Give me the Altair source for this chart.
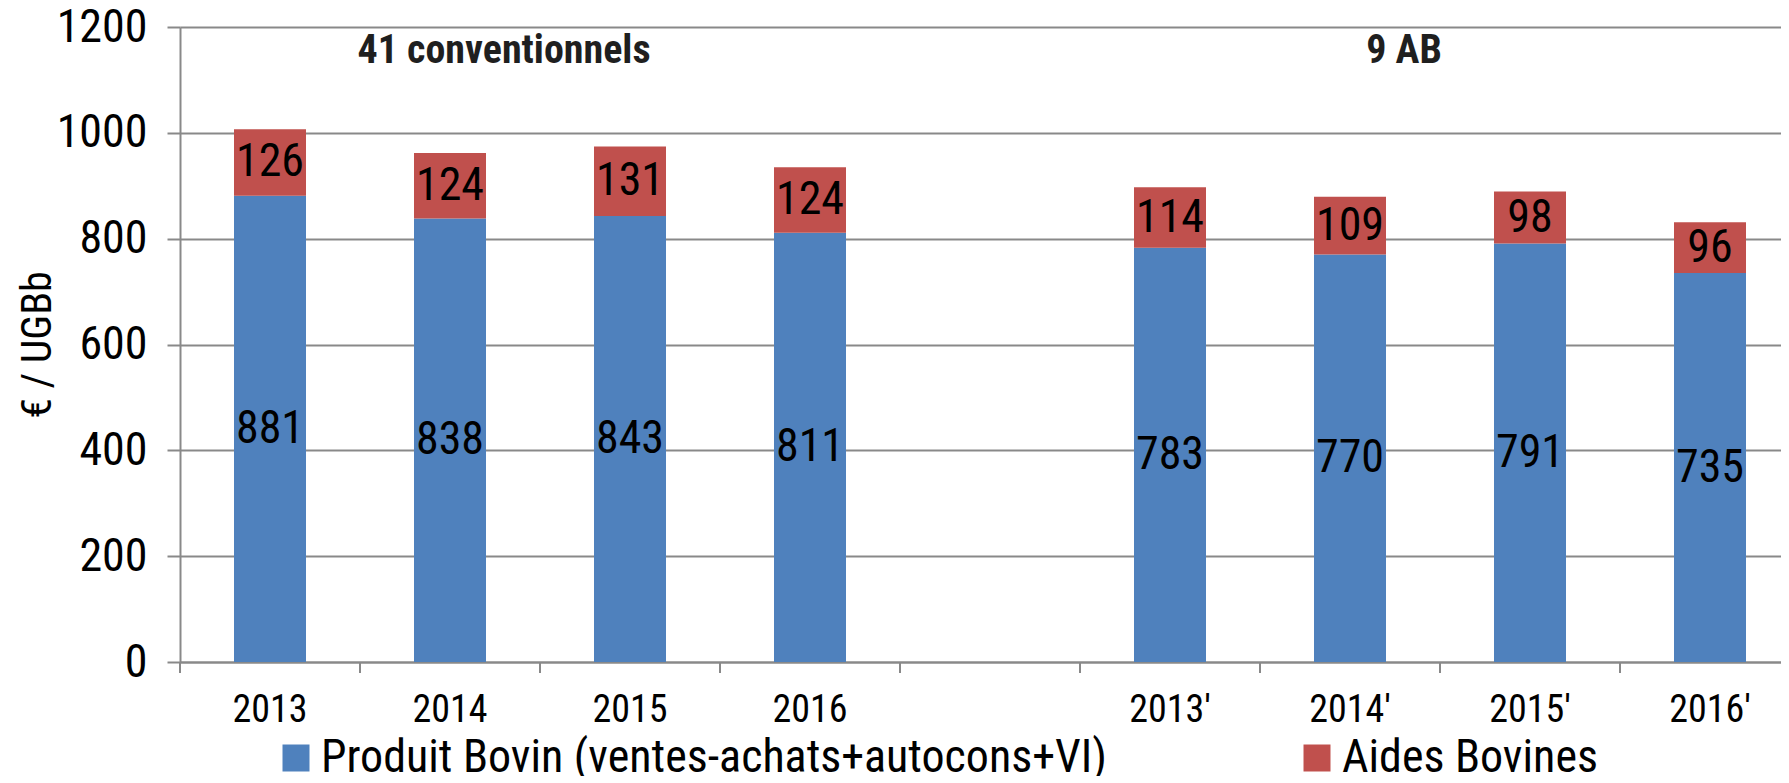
import altair as alt
import pandas as pd

categories = ["2013", "2014", "2015", "2016", " ", "2013'", "2014'", "2015'", "2016'"]
bar_cats = ["2013", "2014", "2015", "2016", "2013'", "2014'", "2015'", "2016'"]
produit = [881, 838, 843, 811, 783, 770, 791, 735]
aides = [126, 124, 131, 124, 114, 109, 98, 96]
series = ["Produit Bovin (ventes-achats+autocons+VI)", "Aides Bovines"]
colors = ["#4F81BD", "#C0504D"]
group_labels = ["41 conventionnels", "9 AB"]
group_cats = ["2014", "2014'"]
y_ticks = [0, 200, 400, 600, 800, 1000, 1200]

FONT = "Liberation Sans Narrow, Arial Narrow, Roboto Condensed, sans-serif"

rows = []
for c, p, a in zip(bar_cats, produit, aides):
    rows.append({"cat": c, "serie": series[0], "val": p, "ord": 0, "mid": p / 2})
    rows.append({"cat": c, "serie": series[1], "val": a, "ord": 1, "mid": p + a / 2})
df = pd.DataFrame(rows)

xscale = alt.Scale(domain=categories, range=[0, 1620], paddingInner=0, paddingOuter=0)
yscale = alt.Scale(domain=[0, 1200], nice=False)

bars = alt.Chart(df).mark_bar(width=72).encode(
    x=alt.X("cat:N", scale=xscale, sort=categories,
            axis=alt.Axis(title=None, ticks=False, labelAngle=0, labelFontSize=38,
                          labelPadding=29, domainColor="#898989", domainWidth=2,
                          labelColor="#000000", labelFont=FONT)),
    y=alt.Y("val:Q", stack="zero", scale=yscale,
            axis=alt.Axis(values=y_ticks, format="d", title="€ / UGBb", titleFontSize=42,
                          titleFont=FONT, titleFontWeight="normal", titleColor="#000000",
                          titlePadding=-3, labelFontSize=46, labelFont=FONT,
                          labelColor="#000000", labelPadding=20, tickSize=13,
                          tickColor="#898989", tickWidth=2, domainColor="#898989",
                          domainWidth=2, gridColor="#898989", gridWidth=2)),
    color=alt.Color("serie:N", scale=alt.Scale(domain=series, range=colors),
                    legend=alt.Legend(title=None, orient="none", direction="horizontal",
                                      legendX=93, legendY=708, symbolType="square",
                                      symbolSize=729, symbolStrokeWidth=0,
                                      symbolOpacity=1, labelFontSize=46, labelFont=FONT,
                                      labelColor="#000000", labelOffset=2,
                                      columnPadding=186, padding=0, labelLimit=2000)),
    order=alt.Order("ord:Q"),
)

labels = alt.Chart(df).mark_text(fontSize=46, font=FONT, color="#000000",
                                 baseline="middle").encode(
    x=alt.X("cat:N", scale=xscale, sort=categories),
    y=alt.Y("mid:Q", scale=yscale),
    text=alt.Text("val:Q"),
)

tick_df = pd.DataFrame({"cat": categories})
ticks = alt.Chart(tick_df).mark_rule(color="#898989", strokeWidth=2).encode(
    x=alt.X("cat:N", scale=xscale, sort=categories, bandPosition=0),
    y=alt.value(635),
    y2=alt.value(646),
)

ann_df = pd.DataFrame({"cat": group_cats, "txt": group_labels, "y": [1155, 1155]})
ann = alt.Chart(ann_df).mark_text(fontSize=40, font=FONT, fontWeight="bold",
                                  color="#1f1f1f", baseline="middle").encode(
    x=alt.X("cat:N", scale=xscale, sort=categories, bandPosition=0.8),
    y=alt.Y("y:Q", scale=yscale),
    text="txt:N",
)

chart = alt.layer(bars, labels, ticks, ann).properties(
    width=1601, height=635,
    autosize=alt.AutoSizeParams(type="none"),
    padding={"left": 172, "top": 19, "right": 0, "bottom": 114},
).configure_view(stroke=None).configure_axis(grid=True).configure_axisX(grid=False)

chart.save("out.html", embed_options={"renderer": "svg", "actions": False})
